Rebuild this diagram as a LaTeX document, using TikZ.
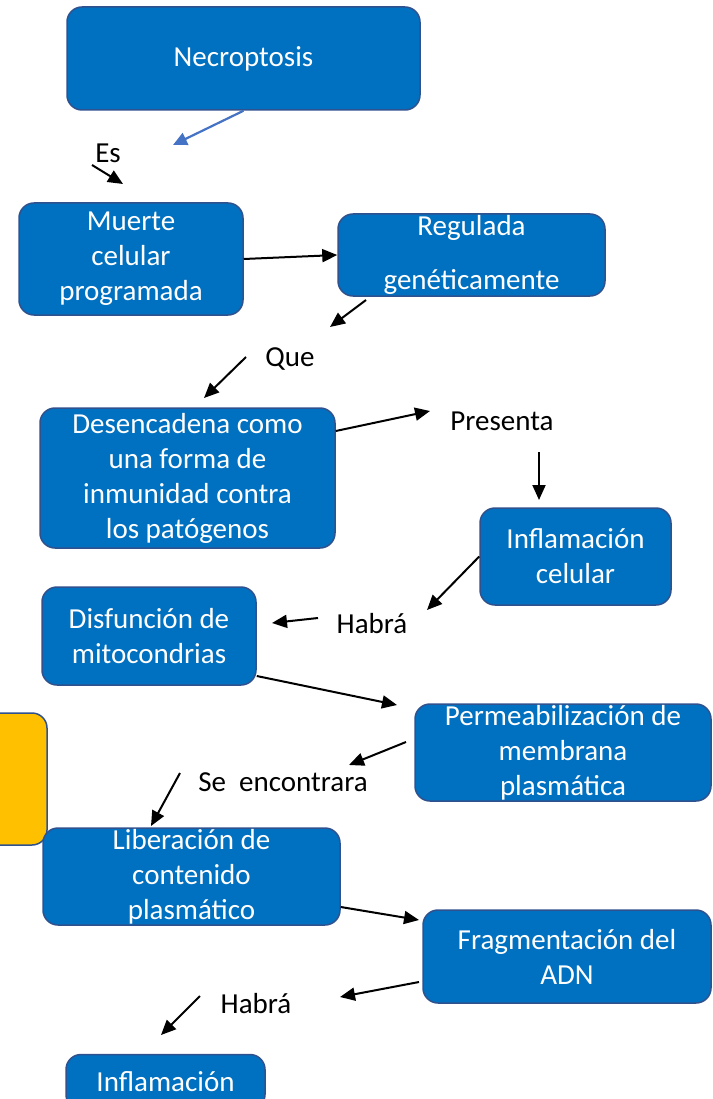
\documentclass[tikz,border=0pt]{standalone}
\usepackage{fontspec}
\setmainfont{Carlito}
\usepackage{tikz}
\usetikzlibrary{arrows.meta}
\definecolor{boxfill}{RGB}{0,112,192}
\definecolor{boxrule}{RGB}{47,82,143}
\definecolor{notefill}{RGB}{255,192,0}
\definecolor{softlink}{RGB}{68,114,196}
\tikzset{
  concept/.style={rectangle,rounded corners=15pt,draw=boxrule,line width=1.5pt,fill=boxfill,text=white,align=center,inner sep=0pt},
  note/.style={rectangle,rounded corners=15pt,draw=boxrule,line width=1.5pt,fill=notefill,inner sep=0pt},
  word/.style={text=black,inner sep=0pt},
  link/.style={-{Triangle[length=15pt,width=13pt]},line width=2pt},
  bluelink/.style={-{Triangle[length=14pt,width=13pt]},line width=2.2pt,draw=softlink,softlink}
}

\begin{document}
\begin{tikzpicture}[x=1pt,y=-1pt,font=\fontsize{29}{35}\selectfont]
  \useasboundingbox (0,0) rectangle (712,1099);
  % boxes
  \node[concept,minimum width=353pt,minimum height=103pt] (necro) at (243.5,58.5) {Necroptosis};
  \node[concept,minimum width=224pt,minimum height=112pt] (mcp) at (131,259) {Muerte\\celular\\programada};
  \node[concept,minimum width=267pt,minimum height=82pt] (reg) at (471.5,255) {Regulada\\[19pt]genéticamente};
  \node[concept,minimum width=295pt,minimum height=140pt] (desen) at (187.5,478) {Desencadena como\\una forma de\\inmunidad contra\\los patógenos};
  \node[concept,minimum width=191pt,minimum height=97pt] (infcel) at (575.5,556.5) {Inflamación\\celular};
  \node[concept,minimum width=214pt,minimum height=98pt] (disf) at (149,636) {Disfunción de\\mitocondrias};
  \node[concept,minimum width=296pt,minimum height=97pt] (perm) at (563,752.5) {Permeabilización de\\membrana\\plasmática};
  \node[note,minimum width=87pt,minimum height=132pt] (yellow) at (3.5,779) {};
  \node[concept,minimum width=297pt,minimum height=97pt] (lib) at (191.5,876.5) {Liberación de\\contenido\\plasmático};
  \node[concept,minimum width=288pt,minimum height=93pt] (frag) at (567,956.5) {Fragmentación del\\ADN};
  \node[concept,minimum width=199pt,minimum height=55pt] (inf) at (165.5,1082) {Inflamación};
  % labels
  \node[word] (es) at (108,153) {Es};
  \node[word] (que) at (290,359) {Que};
  \node[word] (presenta) at (502,421) {Presenta};
  \node[word] (habra1) at (372,624) {Habrá};
  \node[word] (seenc) at (283,782) {Se\ \ encontrara};
  \node[word] (habra2) at (256,1004) {Habrá};
  % free ends
  \coordinate (bl-end) at (173,145);
  \coordinate (es-a) at (92,165);
  \coordinate (es-b) at (123,184);
  \coordinate (que-a) at (366,300);
  \coordinate (que-b) at (330,327);
  \coordinate (que-c) at (246,357);
  \coordinate (que-d) at (204,398);
  \coordinate (pr-a) at (430,411);
  \coordinate (pr-b) at (539,452);
  \coordinate (pr-c) at (539,500);
  \coordinate (hb-a) at (427,610);
  \coordinate (hb-b) at (318,618);
  \coordinate (hb-c) at (272,623);
  \coordinate (pm-a) at (397,705);
  \coordinate (se-a) at (406,742);
  \coordinate (se-b) at (349,765);
  \coordinate (se-c) at (180,773);
  \coordinate (se-d) at (151,826);
  \coordinate (fr-a) at (419,920);
  \coordinate (fr-b) at (419,982);
  \coordinate (fr-c) at (340,997);
  \coordinate (hb-d) at (200,996);
  \coordinate (hb-e) at (161,1035);
  % arrows
  \draw[bluelink] (necro.south) -- (bl-end);
  \draw[link] (es-a) -- (es-b);
  \draw[link] (mcp.east) -- (reg.west);
  \draw[link] (que-a) -- (que-b);
  \draw[link] (que-c) -- (que-d);
  \draw[link] ([yshift=47pt]desen.east) -- (pr-a);
  \draw[link] (pr-b) -- (pr-c);
  \draw[link] (infcel.west) -- (hb-a);
  \draw[link] (hb-b) -- (hb-c);
  \draw[link] ([yshift=-40pt]disf.east) -- (pm-a);
  \draw[link] (se-a) -- (se-b);
  \draw[link] (se-c) -- (se-d);
  \draw[link] ([yshift=-30.5pt]lib.east) -- (fr-a);
  \draw[link] (fr-b) -- (fr-c);
  \draw[link] (hb-d) -- (hb-e);
\end{tikzpicture}
\end{document}
